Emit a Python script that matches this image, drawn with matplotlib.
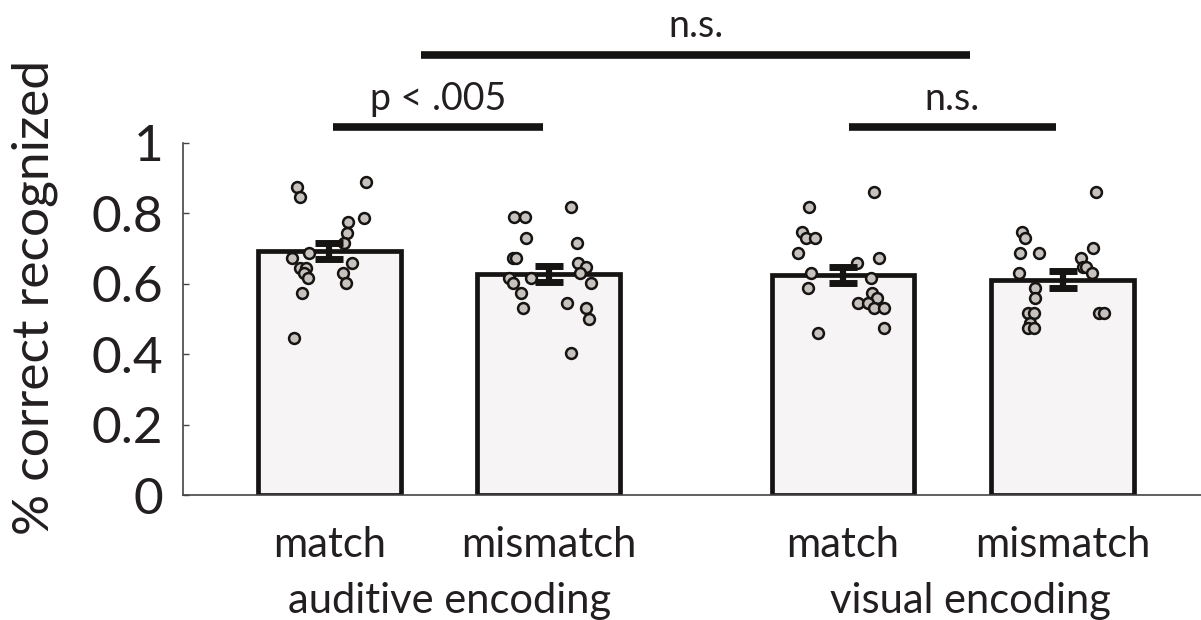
import matplotlib.pyplot as plt

# condition positions and data
positions = [1, 2, 3.34, 4.34]
tick_labels = ['match', 'mismatch', 'match', 'mismatch']
means = [0.693, 0.628, 0.625, 0.611]
sems = [0.023, 0.023, 0.023, 0.024]

# individual subjects: (jitter offset, value)
subj_auditive_match = [
    (-0.145, 0.874), (-0.133, 0.846), (0.169, 0.888), (0.159, 0.788),
    (0.087, 0.775), (0.082, 0.745), (0.069, 0.717), (-0.092, 0.688),
    (-0.171, 0.674), (-0.133, 0.646), (-0.107, 0.646), (-0.113, 0.630),
    (-0.098, 0.616), (0.103, 0.660), (0.064, 0.630), (0.077, 0.601),
    (-0.123, 0.573), (-0.159, 0.445)]
subj_auditive_mismatch = [
    (-0.159, 0.789), (-0.107, 0.789), (0.100, 0.817), (-0.103, 0.731),
    (0.129, 0.717), (-0.161, 0.674), (-0.150, 0.674), (0.132, 0.660),
    (0.171, 0.647), (0.143, 0.630), (-0.182, 0.617), (-0.081, 0.617),
    (-0.164, 0.601), (0.191, 0.601), (-0.129, 0.573), (-0.118, 0.530),
    (0.082, 0.545), (0.169, 0.530), (0.185, 0.501), (0.102, 0.403)]
subj_visual_match = [
    (0.139, 0.860), (-0.153, 0.817), (-0.186, 0.746), (-0.169, 0.731),
    (-0.130, 0.731), (-0.206, 0.688), (0.164, 0.674), (0.063, 0.660),
    (-0.148, 0.632), (0.128, 0.617), (-0.162, 0.589), (0.131, 0.575),
    (0.153, 0.561), (0.069, 0.545), (0.112, 0.545), (0.142, 0.530),
    (0.187, 0.530), (0.187, 0.474), (-0.116, 0.459)]
subj_visual_mismatch = [
    (0.152, 0.860), (-0.187, 0.746), (-0.173, 0.731), (-0.195, 0.688),
    (-0.108, 0.688), (0.139, 0.703), (0.085, 0.674), (0.091, 0.647),
    (0.106, 0.647), (0.132, 0.632), (-0.200, 0.632), (-0.126, 0.587),
    (-0.126, 0.561), (-0.159, 0.516), (-0.129, 0.516), (-0.150, 0.488),
    (-0.159, 0.474), (-0.132, 0.474), (0.164, 0.516), (0.190, 0.516)]
subjects = [subj_auditive_match, subj_auditive_mismatch,
            subj_visual_match, subj_visual_mismatch]

group_labels = ['auditive encoding', 'visual encoding']
group_pos = [1.55, 3.92]

# significance brackets: (x start, x end, y, label)
brackets = [(1.017, 1.974, 1.045, 'p < .005'),
            (3.365, 4.308, 1.045, 'n.s.'),
            (1.418, 3.919, 1.25, 'n.s.')]

txt = '#231f20'
plt.rcParams['font.family'] = ['Lato', 'DejaVu Sans']

fig = plt.figure(figsize=(12.01, 6.2), dpi=100)
ax = fig.add_axes([0.1524, 0.2016, 0.8476, 0.5678])

ax.bar(positions, means, width=0.65, color='#f6f4f5', edgecolor='#161412',
       linewidth=3.4, zorder=1)

for p, subj in zip(positions, subjects):
    xs = [p + dx for dx, v in subj]
    ys = [v for dx, v in subj]
    ax.plot(xs, ys, 'o', markersize=7.8, markerfacecolor='#c7c2be',
            markeredgecolor='#161412', markeredgewidth=1.8, zorder=3,
            clip_on=False)

ax.errorbar(positions, means, yerr=sems, fmt='none', ecolor='#161412',
            elinewidth=4.5, capsize=10, capthick=5, zorder=4)

for x0, x1, y, label in brackets:
    ax.plot([x0, x1], [y, y], color='#161412', linewidth=5.5,
            solid_capstyle='butt', clip_on=False)
    ax.text((x0 + x1) / 2, y + 0.03, label, ha='center', va='bottom',
            fontsize=27, color=txt)

ax.set_xlim(0.334, 4.97)
ax.set_ylim(0, 1)
ax.set_yticks([0, 0.2, 0.4, 0.6, 0.8, 1])
ax.set_yticklabels(['0', '0.2', '0.4', '0.6', '0.8', '1'])
ax.set_xticks(positions)
ax.set_xticklabels(tick_labels)

ax.tick_params(axis='y', direction='in', length=4, width=1, pad=14,
               labelsize=37, colors='#444444', labelcolor=txt)
ax.tick_params(axis='x', length=0, pad=22, labelsize=30, labelcolor=txt)

for g, gp in zip(group_labels, group_pos):
    ax.text(gp, -0.30, g, ha='center', va='center', fontsize=30,
            color=txt, transform=ax.get_xaxis_transform())

fig.text(35 / 1201, 1 - 297 / 620, '% correct recognized', rotation=90,
         ha='center', va='center', fontsize=37, color=txt)

ax.spines['top'].set_visible(False)
ax.spines['right'].set_visible(False)
ax.spines['left'].set_linewidth(1.2)
ax.spines['bottom'].set_linewidth(1.2)
ax.spines['left'].set_color('#444444')
ax.spines['bottom'].set_color('#444444')

fig.savefig('out.png', dpi=100)
